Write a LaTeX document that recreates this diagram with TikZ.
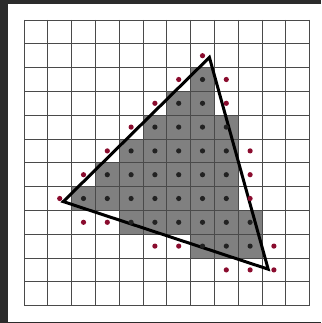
\documentclass[tikz,border=0pt]{standalone}
\begin{document}
\begin{tikzpicture}[x=1pt,y=-1pt]
\definecolor{frame}{HTML}{2B2B2B}
\definecolor{cellgray}{HTML}{808080}
\definecolor{gridc}{HTML}{4A4A4A}
\definecolor{reddot}{HTML}{8A0C2E}
\definecolor{blackdot}{HTML}{222222}
\tikzset{
  gridline/.style={draw=gridc, line width=0.75pt},
  tri/.style={draw=black, line width=3pt, line join=miter},
  indot/.style={fill=blackdot},
  outdot/.style={fill=reddot}
}
\useasboundingbox (0,0) rectangle (321,323);
\fill[frame] (0,0) rectangle (321,323);
\fill[white] (8,4) rectangle (321,321.5);
\begin{scope}[shift={(24,20)}, x=23.8pt, y=-23.8pt]
  % shaded cells
  \foreach \r/\a/\b in {2/7/7, 3/6/7, 4/5/8, 5/4/8, 6/3/8, 7/2/8, 8/4/9, 9/7/9}{
    \foreach \c in {\a,...,\b}{
      \fill[cellgray] (\c,\r) rectangle ++(1,1);
    }
  }
  % grid
  \foreach \i in {0,...,12}{
    \draw[gridline] (\i,0) -- (\i,12);
    \draw[gridline] (0,\i) -- (12,\i);
  }
  % triangle
  \coordinate (A) at (7.79,1.57);
  \coordinate (B) at (1.65,7.63);
  \coordinate (C) at (10.26,10.47);
  \draw[tri] (A) -- (B) -- (C) -- cycle;
  % inside dots
  \foreach \r/\a/\b in {2/7/7, 3/6/7, 4/5/8, 5/4/8, 6/3/8, 7/2/8, 8/4/9, 9/7/9}{
    \foreach \c in {\a,...,\b}{
      \fill[indot] (\c+0.5,\r+0.5) circle[radius=2.6pt];
    }
  }
  % outside dots
  \foreach \c/\r in {7/1, 6/2, 8/2, 5/3, 8/3, 4/4, 3/5, 9/5, 2/6, 9/6, 1/7, 9/7, 2/8, 3/8, 5/9, 6/9, 10/9, 8/10, 9/10, 10/10}{
    \fill[outdot] (\c+0.5,\r+0.5) circle[radius=2.6pt];
  }
\end{scope}
\end{tikzpicture}
\end{document}
